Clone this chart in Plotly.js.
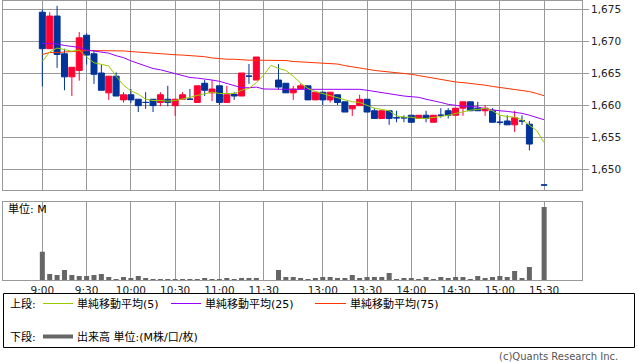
<!DOCTYPE html>
<html><head><meta charset="utf-8">
<script src="https://cdn.plot.ly/plotly-3.0.1.min.js"></script>
<style>html,body{margin:0;padding:0;background:#fff;}#chart{width:638px;height:362px;}</style>
</head><body><div id="chart"></div>
<script>
// ---- slots (5-minute bars) ----
const slotTimes = ['9:00','9:05','9:10','9:15','9:20','9:25','9:30','9:35','9:40','9:45','9:50','9:55',
'10:00','10:05','10:10','10:15','10:20','10:25','10:30','10:35','10:40','10:45','10:50','10:55',
'11:00','11:05','11:10','11:15','11:20','11:25','11:30','12:25',
'12:30','12:35','12:40','12:45','12:50','12:55',
'13:00','13:05','13:10','13:15','13:20','13:25','13:30','13:35','13:40','13:45','13:50','13:55',
'14:00','14:05','14:10','14:15','14:20','14:25','14:30','14:35','14:40','14:45','14:50','14:55',
'15:00','15:05','15:10','15:15','15:20','15:25','15:30'];
const tickTimes = ['9:00','9:30','10:00','10:30','11:00','11:30','13:00','13:30','14:00','14:30','15:00','15:30'];
const priceTicks = [1650,1655,1660,1665,1670,1675];

// ---- candles ----
const candleTimes = ['9:00','9:05','9:10','9:15','9:20','9:25','9:30','9:35','9:40','9:45','9:50','9:55',
'10:00','10:05','10:10','10:15','10:20','10:25','10:30','10:35','10:40','10:45','10:50','10:55',
'11:00','11:05','11:10','11:15','11:20','11:25',
'12:30','12:35','12:40','12:45','12:50','12:55',
'13:00','13:05','13:10','13:15','13:20','13:25','13:30','13:35','13:40','13:45','13:50','13:55',
'14:00','14:05','14:10','14:15','14:20','14:25','14:30','14:35','14:40','14:45','14:50','14:55',
'15:00','15:05','15:10','15:15','15:20','15:30'];
const openP  = [1674.5,1668.8,1673.9,1668.0,1664.4,1665.4,1670.9,1668.0,1665.0,1661.9,1664.5,1660.8,
1661.6,1660.9,1660.4,1660.9,1660.4,1660.9,1659.9,1660.9,1660.9,1660.4,1663.4,1661.9,
1663.0,1660.4,1661.7,1661.4,1664.5,1663.9,
1663.9,1663.4,1661.9,1662.5,1663.0,1660.8,
1662.0,1660.8,1661.6,1660.5,1659.4,1659.9,1660.9,1659.1,1657.9,1659.1,1658.0,1658.0,
1658.4,1657.9,1658.4,1657.3,1658.4,1659.1,1658.4,1659.5,1660.5,1659.5,1659.1,1659.1,
1657.3,1657.5,1656.9,1657.5,1657.0,1647.5];
const highP  = [1674.9,1674.5,1675.5,1668.8,1665.9,1671.4,1671.2,1668.6,1666.3,1664.5,1665.1,1662.0,
1662.5,1660.9,1662.0,1660.9,1662.0,1663.0,1660.9,1662.0,1662.5,1663.0,1663.9,1663.9,
1663.0,1663.0,1662.0,1665.0,1666.4,1667.5,
1666.4,1663.4,1663.0,1663.3,1663.0,1662.0,
1662.0,1662.0,1661.6,1660.5,1659.9,1661.6,1660.9,1659.5,1659.1,1659.1,1659.1,1658.4,
1658.4,1658.4,1659.1,1658.4,1659.5,1659.5,1659.5,1660.5,1660.5,1660.5,1660.0,1659.5,
1658.4,1658.4,1659.1,1658.4,1657.5,1647.5];
const lowP   = [1662.9,1668.8,1665.8,1662.3,1661.4,1663.8,1666.3,1663.3,1662.3,1660.8,1661.4,1660.4,
1660.3,1658.9,1659.4,1658.9,1659.8,1659.8,1658.3,1660.9,1660.9,1660.4,1661.4,1660.6,
1660.0,1660.4,1660.8,1661.4,1663.3,1663.9,
1662.5,1661.9,1660.8,1662.5,1660.8,1660.8,
1660.0,1660.4,1660.0,1658.9,1658.3,1659.9,1658.9,1657.9,1657.9,1656.9,1657.3,1657.3,
1657.3,1657.9,1657.3,1657.3,1658.0,1657.9,1658.4,1658.3,1659.1,1659.1,1658.3,1657.3,
1656.9,1656.9,1655.8,1656.9,1652.9,1647.5];
const closeP = [1668.8,1673.9,1667.9,1664.4,1665.9,1670.5,1667.8,1664.8,1662.3,1664.5,1661.4,1661.6,
1660.8,1659.9,1660.4,1659.9,1661.6,1660.4,1660.9,1661.6,1660.9,1663.0,1662.3,1662.5,
1660.4,1661.6,1661.4,1665.0,1664.5,1667.5,
1662.8,1661.9,1662.5,1663.0,1660.8,1662.0,
1660.8,1662.0,1660.4,1658.9,1659.9,1660.9,1658.9,1657.9,1659.1,1657.9,1658.0,1658.0,
1657.3,1658.4,1657.9,1658.4,1658.4,1658.4,1659.5,1660.5,1659.1,1659.1,1659.5,1657.3,
1657.3,1656.9,1658.0,1657.5,1653.9,1647.5];

// ---- moving averages (one value per slot) ----
const ma5 = [1666.8,1668.3,1668.9,1668.6,1668.4,1668.6,1667.5,1666.6,1666.3,1666.1,1664.5,1663.1,
1662.2,1661.7,1660.9,1660.7,1660.7,1660.6,1660.7,1660.9,1661.2,1661.5,1661.8,1662.0,
1661.8,1661.8,1661.8,1662.3,1662.6,1663.5,1664.7,1666.2,
1665.7,1665.4,1664.5,1663.4,1662.6,1662.1,
1661.8,1661.5,1661.1,1660.9,1660.5,1660.4,1660.0,1659.5,1659.3,1659.1,1658.3,1658.1,
1658.1,1657.9,1657.9,1658.0,1658.2,1658.4,1658.7,1659.0,1659.2,1659.3,1659.5,1659.1,
1658.4,1658.2,1658.1,1657.7,1656.8,1656.0,1654.1];
const ma25 = [1669.6,1669.6,1669.55,1669.3,1669.1,1669.0,1668.6,1668.4,1668.3,1668.1,1667.7,1667.4,
1666.9,1666.5,1666.1,1665.7,1665.5,1665.2,1664.8,1664.5,1664.3,1664.2,1664.1,1663.9,
1663.7,1663.4,1663.0,1662.7,1662.7,1662.8,1662.5,1662.45,
1662.45,1662.45,1662.45,1662.45,1662.45,1662.45,
1662.45,1662.45,1662.55,1662.45,1662.45,1662.45,1662.3,1662.1,1661.9,1661.7,1661.6,1661.4,
1661.3,1661.2,1660.9,1660.7,1660.4,1660.1,1659.9,1659.8,1659.8,1659.7,1659.4,1659.2,
1659.1,1659.0,1658.9,1658.7,1658.4,1658.1,1657.7];
const ma75 = [1667.9,1668.2,1668.2,1668.3,1668.35,1668.5,1668.5,1668.5,1668.5,1668.5,1668.5,1668.45,
1668.35,1668.25,1668.2,1668.1,1668.05,1667.95,1667.85,1667.8,1667.75,1667.65,1667.55,1667.35,
1667.2,1667.15,1667.15,1667.05,1667.0,1667.0,1667.0,1667.0,
1667.0,1666.95,1666.8,1666.75,1666.7,1666.6,
1666.5,1666.45,1666.4,1666.15,1666.0,1665.8,1665.6,1665.4,1665.3,1665.2,1665.05,1664.95,
1664.8,1664.6,1664.4,1664.2,1664.0,1663.75,1663.6,1663.5,1663.4,1663.25,1663.1,1662.9,
1662.75,1662.55,1662.45,1662.25,1662.1,1661.8,1661.45];

// ---- volume (M) per slot ----
const volume = [0.283,0.06,0.05,0.10,0.05,0.04,0.04,0.05,0.06,0.03,0.01,0.03,
0.02,0.04,0.02,0.01,0.01,0.01,0.01,0.01,0.01,0.01,0.02,0.01,
0.01,0.02,0.01,0.02,0.02,0.02,0,0,
0.10,0.03,0.03,0.02,0.01,0.02,
0.03,0.03,0.02,0.02,0.05,0.02,0.03,0.03,0.03,0.07,0.01,0.02,
0.02,0.01,0.03,0.01,0.03,0.02,0.03,0.03,0.01,0.04,0.02,0.03,
0.04,0.03,0.09,0.02,0.13,0,0.73];

// ---- styles ----
const UP = '#ff0033', DOWN = '#003399', GRID = '#999999';
const C5 = '#99cc00', C25 = '#9900ff', C75 = '#ff3300', VOL = '#666666';

const up = {x:[],open:[],high:[],low:[],close:[]};
const dn = {x:[],open:[],high:[],low:[],close:[]};
candleTimes.forEach((t,i)=>{
  const g = closeP[i] > openP[i] ? up : dn;
  g.x.push(t); g.open.push(openP[i]); g.high.push(highP[i]); g.low.push(lowP[i]); g.close.push(closeP[i]);
});
function candle(g, col){
  return {type:'candlestick', x:g.x, open:g.open, high:g.high, low:g.low, close:g.close,
    xaxis:'x', yaxis:'y', whiskerwidth:0, hoverinfo:'skip', showlegend:false,
    increasing:{line:{color:col,width:1}, fillcolor:col},
    decreasing:{line:{color:col,width:1}, fillcolor:col}};
}
function maLine(vals, col){
  return {type:'scatter', mode:'lines', x:slotTimes, y:vals, xaxis:'x', yaxis:'y',
    line:{color:col, width:1}, hoverinfo:'skip', showlegend:false};
}
const traces = [
  candle(up, UP), candle(dn, DOWN),
  maLine(ma75, C75), maLine(ma25, C25), maLine(ma5, C5),
  {type:'bar', x:slotTimes, y:volume, xaxis:'x2', yaxis:'y2', width:0.68,
   marker:{color:VOL, line:{width:0}}, hoverinfo:'skip', showlegend:false}
];

// pixel -> paper helpers (plot area: x 3..582, y 1..280)
const PX = p => (p-3)/579, PY = p => (280-p)/279;

const xBase = {type:'category', categoryorder:'array', categoryarray:slotTimes,
  range:[-5.33,73.13], domain:[0,1], tickvals:tickTimes, ticks:'',
  showgrid:true, gridcolor:GRID, gridwidth:1, showline:true, mirror:true,
  linecolor:GRID, linewidth:1, zeroline:false, fixedrange:true};

const shapes = [
  {type:'rect', xref:'paper', yref:'paper', x0:PX(3.5), x1:PX(634.5), y0:PY(293.5), y1:PY(347.5),
   line:{color:'#000', width:1}, fillcolor:'rgba(0,0,0,0)'},
  {type:'line', xref:'paper', yref:'paper', x0:PX(43), x1:PX(73), y0:PY(303.5), y1:PY(303.5), line:{color:C5,width:1}},
  {type:'line', xref:'paper', yref:'paper', x0:PX(171), x1:PX(201), y0:PY(303.5), y1:PY(303.5), line:{color:C25,width:1}},
  {type:'line', xref:'paper', yref:'paper', x0:PX(315), x1:PX(346), y0:PY(303.5), y1:PY(303.5), line:{color:C75,width:1}},
  {type:'line', xref:'paper', yref:'paper', x0:PX(43), x1:PX(73), y0:PY(336.5), y1:PY(336.5), line:{color:VOL,width:4}}
];
const LF = {family:'DejaVu Sans, Noto Sans CJK JP', size:11, color:'#000'};
function ann(text, px, py, anchor, font){
  return {text:text, xref:'paper', yref:'paper', x:PX(px), y:PY(py), xanchor:anchor||'left',
    yanchor:'middle', showarrow:false, font:font||LF, borderpad:0};
}
const annotations = [
  ann('単位: M', 7, 209),
  ann('上段:', 9, 303.5),
  ann('単純移動平均(5)', 76, 303.5),
  ann('単純移動平均(25)', 204, 303.5),
  ann('単純移動平均(75)', 349, 303.5),
  ann('下段:', 9, 336.5),
  ann('出来高 単位:(M株/口/枚)', 76, 336.5),
  ann('(c)Quants Research Inc.', 619, 356.5, 'right', {family:'DejaVu Sans, Noto Sans', size:10, color:'#555'})
];

const layout = {
  width:638, height:362, margin:{l:3, r:56, t:1, b:82, pad:0},
  paper_bgcolor:'#ffffff', plot_bgcolor:'#ffffff',
  font:{family:'DejaVu Sans, Noto Sans CJK JP', size:10.5, color:'#222'},
  showlegend:false, boxgap:0.1, boxgroupgap:0.1, boxmode:'overlay',
  xaxis:Object.assign({}, xBase, {anchor:'y', showticklabels:false, rangeslider:{visible:false}}),
  yaxis:{domain:[0.3226,1], range:[1646.72,1676.25], side:'right', tickvals:priceTicks,
    tickformat:',d', ticks:'outside', ticklen:6, tickcolor:GRID, tickwidth:1,
    showgrid:true, gridcolor:GRID, gridwidth:1, showline:true, mirror:true, linecolor:GRID,
    linewidth:1, zeroline:false, fixedrange:true, anchor:'x'},
  xaxis2:Object.assign({}, xBase, {anchor:'y2', showticklabels:true, rangeslider:{visible:false}}),
  yaxis2:{domain:[0,0.2806], range:[0,0.783], showticklabels:false, ticks:'', showgrid:false,
    showline:true, mirror:true, linecolor:GRID, linewidth:1, zeroline:false, fixedrange:true, anchor:'x2'},
  shapes:shapes, annotations:annotations
};
Plotly.newPlot('chart', traces, layout, {staticPlot:true, displayModeBar:false});
</script></body></html>
